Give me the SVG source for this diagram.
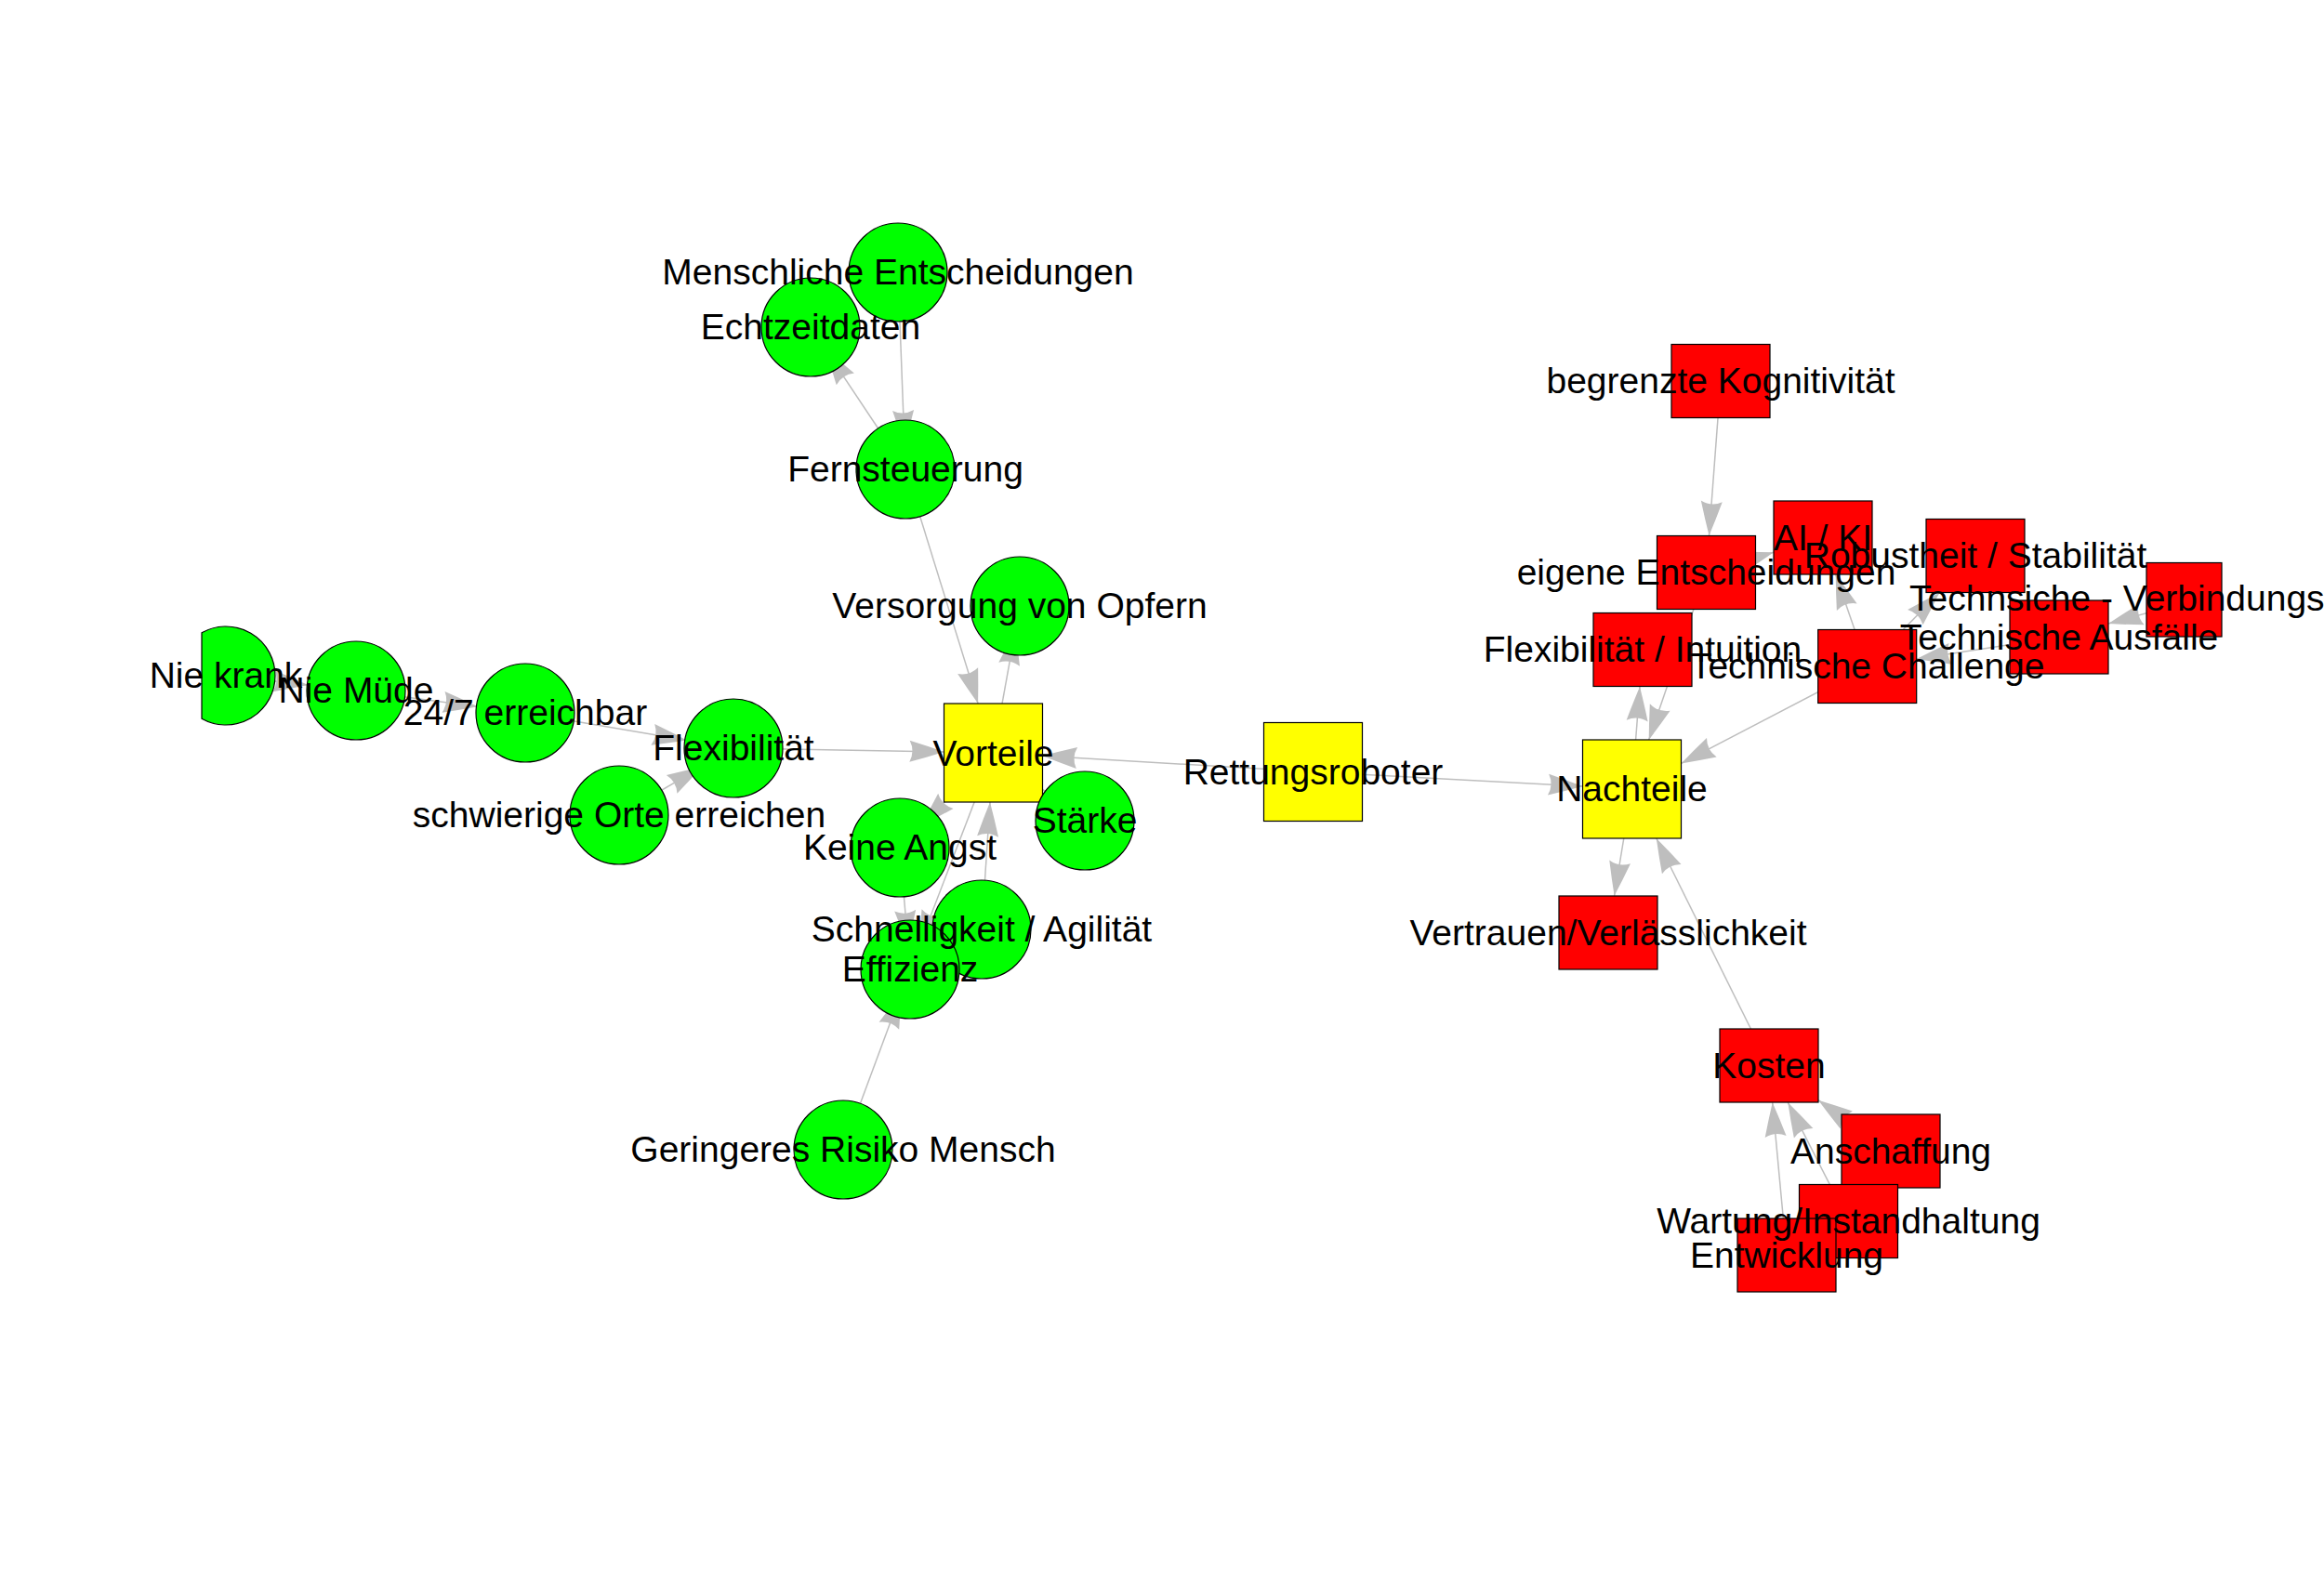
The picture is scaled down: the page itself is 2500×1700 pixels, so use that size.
<svg xmlns="http://www.w3.org/2000/svg" width="2500" height="1700" viewBox="0 0 2500 1700">
<defs>
<style>
.e{stroke:#BEBEBE;stroke-width:1.5;fill:none;marker-end:url(#ah)}
.g{fill:#00FF00;stroke:#000;stroke-width:1.2}
.y{fill:#FFFF00;stroke:#000;stroke-width:1.2}
.r{fill:#FF0000;stroke:#000;stroke-width:1.2}
.lb{font-family:"Liberation Sans",Arial,sans-serif;font-size:39px;fill:#000;text-anchor:middle}
</style>
<marker id="ah" markerUnits="userSpaceOnUse" orient="auto" refX="0" refY="0" markerWidth="40" markerHeight="30" overflow="visible">
<path d="M0,0 Q-18,-6 -37,-11.5 Q-31,0 -37,11.5 Q-18,6 0,0 Z" fill="#BEBEBE"/>
</marker>
</defs>
<rect width="2500" height="1700" fill="#FFFFFF"/>
<g id="edges">
<line class="e" x1="966" y1="293" x2="973" y2="478.5"/>
<line class="e" x1="974" y1="505" x2="888.8" y2="377.1"/>
<line class="e" x1="974" y1="505" x2="1052.1" y2="757"/>
<line class="e" x1="1068.5" y1="810" x2="1092.2" y2="678.4"/>
<line class="e" x1="243" y1="727" x2="331.3" y2="737.1"/>
<line class="e" x1="383" y1="743" x2="513.7" y2="760.2"/>
<line class="e" x1="565" y1="767" x2="738.8" y2="796.5"/>
<line class="e" x1="666" y1="877" x2="754.6" y2="825.2"/>
<line class="e" x1="789" y1="805" x2="1015.5" y2="809"/>
<line class="e" x1="1412.5" y1="830.5" x2="1121.5" y2="813.2"/>
<line class="e" x1="1412.5" y1="830.5" x2="1702.5" y2="846.1"/>
<line class="e" x1="1068.5" y1="810" x2="991.4" y2="888.2"/>
<line class="e" x1="1068.5" y1="810" x2="989" y2="1017"/>
<line class="e" x1="968" y1="912" x2="976.8" y2="1016.5"/>
<line class="e" x1="1056" y1="1000" x2="1065" y2="863"/>
<line class="e" x1="907" y1="1237" x2="969.3" y2="1069.1"/>
<line class="e" x1="1167" y1="883" x2="1121.5" y2="849.3"/>
<line class="e" x1="1851" y1="410" x2="1838.5" y2="576.3"/>
<line class="e" x1="1835.5" y1="616" x2="1908" y2="594.3"/>
<line class="e" x1="2008.7" y1="717" x2="1974.7" y2="618.2"/>
<line class="e" x1="2008.7" y1="717" x2="2086.2" y2="637.7"/>
<line class="e" x1="2215" y1="685.5" x2="2061.7" y2="708.9"/>
<line class="e" x1="2362" y1="645.3" x2="2268" y2="671"/>
<line class="e" x1="2008.7" y1="717" x2="1808.5" y2="821.4"/>
<line class="e" x1="1755.5" y1="849" x2="1764" y2="738.7"/>
<line class="e" x1="1835.5" y1="616" x2="1773.7" y2="796"/>
<line class="e" x1="1755.5" y1="849" x2="1736.6" y2="963.8"/>
<line class="e" x1="1903" y1="1146.5" x2="1781.8" y2="902"/>
<line class="e" x1="2034" y1="1238.5" x2="1956" y2="1183.7"/>
<line class="e" x1="1988.5" y1="1314" x2="1923.3" y2="1186.2"/>
<line class="e" x1="1922" y1="1350.5" x2="1906.7" y2="1186.2"/>
</g>
<g id="nodes">
<g id="n-rettungsroboter"><rect class="y" x="1359.5" y="777.5" width="106" height="106"/></g>
<g id="n-vorteile"><rect class="y" x="1015.5" y="757" width="106" height="106"/></g>
<g id="n-nachteile"><rect class="y" x="1702.5" y="796" width="106" height="106"/></g>
<g id="n-menschliche"><circle class="g" cx="966" cy="293" r="53"/></g>
<g id="n-echtzeitdaten"><circle class="g" cx="872" cy="352" r="53"/></g>
<g id="n-fernsteuerung"><circle class="g" cx="974" cy="505" r="53"/></g>
<g id="n-versorgung"><circle class="g" cx="1097" cy="652" r="53"/></g>
<g id="n-niekrank"><path class="g" d="M217,680.8 A53,53 0 1,1 217,773.2 Z"/></g>
<g id="n-niemuede"><circle class="g" cx="383" cy="743" r="53"/></g>
<g id="n-erreichbar"><circle class="g" cx="565" cy="767" r="53"/></g>
<g id="n-flexibilitaet"><circle class="g" cx="789" cy="805" r="53"/></g>
<g id="n-schwierigeorte"><circle class="g" cx="666" cy="877" r="53"/></g>
<g id="n-keineangst"><circle class="g" cx="968" cy="912" r="53"/></g>
<g id="n-staerke"><circle class="g" cx="1167" cy="883" r="53"/></g>
<g id="n-schnelligkeit"><circle class="g" cx="1056" cy="1000" r="53"/></g>
<g id="n-effizienz"><circle class="g" cx="979" cy="1043" r="53"/></g>
<g id="n-geringeres"><circle class="g" cx="907" cy="1237" r="53"/></g>
<g id="n-kognitivitaet"><rect class="r" x="1798" y="370.5" width="106" height="79"/></g>
<g id="n-eigene"><rect class="r" x="1782.5" y="576.5" width="106" height="79"/></g>
<g id="n-aiki"><rect class="r" x="1908" y="539" width="106" height="79"/></g>
<g id="n-robustheit"><rect class="r" x="2072" y="558.5" width="106" height="79"/></g>
<g id="n-verbindungs"><rect class="r" x="2309" y="605.5" width="81" height="79.5"/></g>
<g id="n-ausfaelle"><rect class="r" x="2162" y="646" width="106" height="79"/></g>
<g id="n-challenge"><rect class="r" x="1955.7" y="677.5" width="106" height="79"/></g>
<g id="n-intuition"><rect class="r" x="1714" y="659.5" width="106" height="79"/></g>
<g id="n-vertrauen"><rect class="r" x="1677" y="964" width="106" height="79"/></g>
<g id="n-kosten"><rect class="r" x="1850" y="1107" width="106" height="79"/></g>
<g id="n-anschaffung"><rect class="r" x="1981" y="1199" width="106" height="79"/></g>
<g id="n-wartung"><rect class="r" x="1935.5" y="1274.5" width="106" height="79"/></g>
<g id="n-entwicklung"><rect class="r" x="1869" y="1311" width="106" height="79"/></g>
</g>
<g id="labels">
<text class="lb" x="966" y="306">Menschliche Entscheidungen</text>
<text class="lb" x="872" y="365">Echtzeitdaten</text>
<text class="lb" x="974" y="518">Fernsteuerung</text>
<text class="lb" x="1097" y="665">Versorgung von Opfern</text>
<text class="lb" x="1068.5" y="823.5">Vorteile</text>
<text class="lb" x="243" y="740">Nie krank</text>
<text class="lb" x="383" y="756">Nie Müde</text>
<text class="lb" x="565" y="780">24/7 erreichbar</text>
<text class="lb" x="789" y="818">Flexibilität</text>
<text class="lb" x="666" y="890">schwierige Orte erreichen</text>
<text class="lb" x="968" y="925">Keine Angst</text>
<text class="lb" x="1167" y="896">Stärke</text>
<text class="lb" x="1056" y="1013">Schnelligkeit / Agilität</text>
<text class="lb" x="979" y="1056">Effizienz</text>
<text class="lb" x="907" y="1250">Geringeres Risiko Mensch</text>
<text class="lb" x="1412.5" y="843.5">Rettungsroboter</text>
<text class="lb" x="1755.5" y="862">Nachteile</text>
<text class="lb" x="1851" y="423">begrenzte Kognitivität</text>
<text class="lb" x="1835.5" y="629">eigene Entscheidungen</text>
<text class="lb" x="1961" y="591.5">AI / KI</text>
<text class="lb" x="2125" y="611">Robustheit / Stabilität</text>
<text class="lb" x="2054" y="657" style="text-anchor:start">Technsiche - Verbindungs</text>
<text class="lb" x="2215" y="698.5">Technische Ausfälle</text>
<text class="lb" x="2008.7" y="730">Technische Challenge</text>
<text class="lb" x="1767" y="712">Flexibilität / Intuition</text>
<text class="lb" x="1730" y="1016.5">Vertrauen/Verlässlichkeit</text>
<text class="lb" x="1903" y="1159.5">Kosten</text>
<text class="lb" x="2034" y="1251.5">Anschaffung</text>
<text class="lb" x="1988.5" y="1327">Wartung/Instandhaltung</text>
<text class="lb" x="1922" y="1363.5">Entwicklung</text>
</g>
</svg>
